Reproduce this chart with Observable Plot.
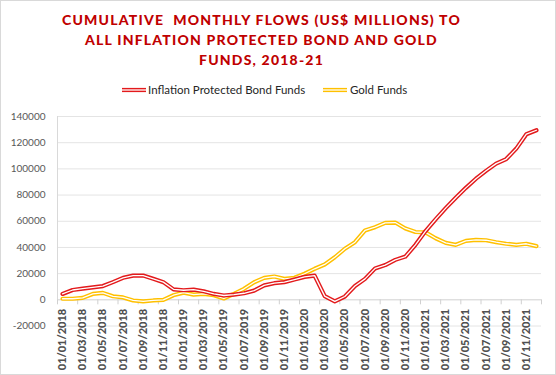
<!DOCTYPE html>
<html><head><meta charset="utf-8">
<script src="https://cdn.jsdelivr.net/npm/d3@7"></script>
<script src="https://cdn.jsdelivr.net/npm/@observablehq/plot@0.6"></script>
<style>
body{margin:0;background:#fff;}
#chart{position:relative;width:556px;height:375px;overflow:hidden;background:#fff;}
#frame{position:absolute;left:0;top:0;width:556px;height:375px;box-sizing:border-box;border:1px solid #d9d9d9;pointer-events:none;}
#title{position:absolute;left:0;top:10px;width:523px;text-align:center;font-family:Lato,sans-serif;font-weight:900;font-size:14px;letter-spacing:1.2px;color:#c00000;line-height:20px;}
.leg{position:absolute;top:83px;font-family:Lato,sans-serif;font-size:11.5px;line-height:14px;color:#262626;white-space:nowrap;}
.sw{position:absolute;top:86px;}
#plot{position:absolute;left:0;top:100px;}
</style>
</head><body>
<div id="chart">
  <div id="title">CUMULATIVE&nbsp; MONTHLY FLOWS (US$ MILLIONS) TO<br>ALL INFLATION PROTECTED BOND AND GOLD<br>FUNDS, 2018-21</div>
  <svg class="sw" style="left:122px" width="24" height="8"><line x1="0" x2="24" y1="4" y2="4" stroke="#e31a1c" stroke-width="4.2"/><line x1="0" x2="24" y1="4" y2="4" stroke="#fff" stroke-width="1.3"/></svg>
  <div class="leg" style="left:148px">Inflation Protected Bond Funds</div>
  <svg class="sw" style="left:323px" width="24" height="8"><line x1="0" x2="24" y1="4" y2="4" stroke="#ffc000" stroke-width="4.2"/><line x1="0" x2="24" y1="4" y2="4" stroke="#fff" stroke-width="1.3"/></svg>
  <div class="leg" style="left:350px">Gold Funds</div>
  <div id="plot"></div>
  <div id="frame"></div>
</div>
<script>
// Months (Jan 2018 - Dec 2021)
const months = [
  "2018-01","2018-02","2018-03","2018-04","2018-05","2018-06","2018-07","2018-08","2018-09","2018-10","2018-11","2018-12",
  "2019-01","2019-02","2019-03","2019-04","2019-05","2019-06","2019-07","2019-08","2019-09","2019-10","2019-11","2019-12",
  "2020-01","2020-02","2020-03","2020-04","2020-05","2020-06","2020-07","2020-08","2020-09","2020-10","2020-11","2020-12",
  "2021-01","2021-02","2021-03","2021-04","2021-05","2021-06","2021-07","2021-08","2021-09","2021-10","2021-11","2021-12"
];
// Cumulative flows, US$ millions
const inflationProtected = [
  4500, 7500, 8500, 9500, 10500, 13500, 16800, 18500, 18500, 16000, 13500, 8000,
  7300, 7800, 6500, 4500, 3300, 4000, 5000, 7000, 11000, 12700, 13500, 15500,
  17500, 18500, 2800, -1200, 2500, 10500, 16000, 24000, 26500, 30500, 33000, 42000,
  52500, 61500, 70000, 78000, 85500, 92500, 98500, 104000, 107500, 115500, 126500, 129500
];
const goldFunds = [
  800, 800, 1500, 4500, 5300, 2700, 1800, -500, -1200, -500, 0, 3500,
  5500, 4000, 4500, 3500, 1000, 4500, 8400, 13400, 16800, 17800, 16000, 16800,
  19900, 23700, 27000, 32500, 39000, 44000, 53000, 55500, 58800, 59000, 54500, 51800,
  51500, 47000, 43500, 42000, 45000, 45800, 45500, 44000, 42800, 42000, 42800, 41000
];
const xTickLabels = [
  "01/01/2018","01/03/2018","01/05/2018","01/07/2018","01/09/2018","01/11/2018",
  "01/01/2019","01/03/2019","01/05/2019","01/07/2019","01/09/2019","01/11/2019",
  "01/01/2020","01/03/2020","01/05/2020","01/07/2020","01/09/2020","01/11/2020",
  "01/01/2021","01/03/2021","01/05/2021","01/07/2021","01/09/2021","01/11/2021"
];
const yTicks = [-20000, 0, 20000, 40000, 60000, 80000, 100000, 120000, 140000];

const red = "#e31a1c", gold = "#ffc000";
const ipb = months.map((m, i) => ({i, v: inflationProtected[i]}));
const gld = months.map((m, i) => ({i, v: goldFunds[i]}));
// two-month category boundaries (tick marks) in month-index units
const bounds = xTickLabels.map((d, k) => k * 2 - 0.5).concat([months.length - 0.5]);

const chart = Plot.plot({
  width: 556, height: 275,
  marginTop: 16, marginBottom: 49.5, marginLeft: 57, marginRight: 15,
  x: {domain: [-0.5, months.length - 0.5], axis: null},
  y: {domain: [yTicks[0], yTicks[yTicks.length - 1]], axis: null},
  style: {fontFamily: "Lato, sans-serif", background: "transparent", overflow: "visible"},
  marks: [
    Plot.ruleY(yTicks.filter(d => d !== 0), {y: d => d, stroke: "#e4e4e4", strokeWidth: 1}),
    Plot.ruleX([-0.5], {x: d => d, y1: 0, y2: yTicks[yTicks.length - 1], stroke: "#d9d9d9"}),
    Plot.ruleY([0], {y: d => d, stroke: "#d0d0d0"}),
    Plot.ruleX(bounds, {x: d => d, y1: 0, y2: 0, insetTop: 5, stroke: "#d0d0d0"}),
    Plot.text(yTicks, {x: -0.5, y: d => d, text: d => String(d), textAnchor: "end", dx: -12, fill: "#595959", fontSize: 10}),
    Plot.text(xTickLabels, {x: (d, k) => k * 2 - 0.5, y: 0, text: d => d, rotate: -90, textAnchor: "end", dx: 5, dy: 9, fill: "#505050", fontSize: 11, fontWeight: 900}),
    Plot.line(gld, {x: "i", y: "v", stroke: gold, strokeWidth: 4.2, strokeLinejoin: "round"}),
    Plot.line(gld, {x: "i", y: "v", stroke: "#fff", strokeWidth: 1.3, strokeLinejoin: "round"}),
    Plot.line(ipb, {x: "i", y: "v", stroke: red, strokeWidth: 4.2, strokeLinejoin: "round"}),
    Plot.line(ipb, {x: "i", y: "v", stroke: "#fff", strokeWidth: 1.3, strokeLinejoin: "round"})
  ]
});
document.getElementById("plot").appendChild(chart);
</script>
</body></html>
